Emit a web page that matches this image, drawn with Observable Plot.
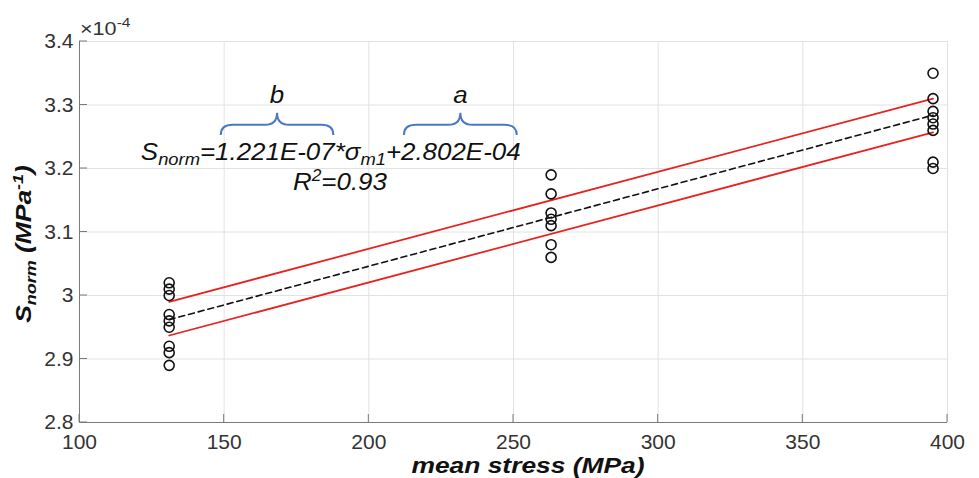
<!DOCTYPE html>
<html><head><meta charset="utf-8">
<script src="https://cdn.jsdelivr.net/npm/d3@7"></script>
<script src="https://cdn.jsdelivr.net/npm/@observablehq/plot@0.6"></script>
<style>
html,body{margin:0;padding:0;background:#fff;}
#chart svg{display:block;}
</style>
</head><body><div id="chart"></div>
<script>
// values in units of 1e-4 MPa^-1 (as shown on the axis)
const stressLevels = [131, 263, 395];
const sAt131 = [3.02, 3.01, 3.00, 2.97, 2.96, 2.95, 2.92, 2.91, 2.89];
const sAt263 = [3.19, 3.16, 3.13, 3.12, 3.11, 3.08, 3.06];
const sAt395 = [3.35, 3.31, 3.29, 3.28, 3.27, 3.26, 3.21, 3.20];

const lineX = [131, 395];
const fitY = [2.962, 3.284];
const upperY = [2.990, 3.310];
const lowerY = [2.937, 3.257];

const xTicks = [100, 150, 200, 250, 300, 350, 400];
const yTicks = [2.8, 2.9, 3, 3.1, 3.2, 3.3, 3.4];

// annotation anchors (data units)
const eqPos = [187.0, 3.2126];
const r2Pos = [190.2, 3.1654];
const braceLabels = ["b", "a"];
const braceX1 = [149.0, 212.3];
const braceX2 = [187.9, 251.3];
const braceYEnd = 3.252, braceYFlat = 3.268, braceYTip = 3.287, braceLabelY = 3.302;

const FONT = "'Liberation Sans', Arial, Helvetica, sans-serif";

const groups = [sAt131, sAt263, sAt395];
const points = stressLevels.flatMap((s, i) => groups[i].map(v => ({s, v})));
const mk = ys => lineX.map((x, i) => ({x, y: ys[i]}));

function annotations(index, scales, values, dims) {
  const {x, y} = scales;
  const {width, height, marginLeft, marginRight, marginTop, marginBottom} = dims;
  const g = d3.create("svg:g").attr("font-family", FONT).attr("text-anchor", "start");
  // inward ticks
  const tk = g.append("g").attr("stroke", "#7a7a7a").attr("stroke-width", 1);
  xTicks.forEach(t => tk.append("line").attr("x1", x(t)).attr("x2", x(t))
    .attr("y1", height - marginBottom).attr("y2", height - marginBottom - 8));
  yTicks.forEach(t => tk.append("line").attr("y1", y(t)).attr("y2", y(t))
    .attr("x1", marginLeft).attr("x2", marginLeft + 8));

  // braces
  braceLabels.forEach((lab, i) => {
    const x1 = x(braceX1[i]), x2 = x(braceX2[i]), xm = (x1 + x2) / 2;
    const ye = y(braceYEnd), yf = y(braceYFlat), yt = y(braceYTip);
    const r = 12;
    const d = `M${x1},${ye} Q${x1},${yf} ${x1 + r},${yf} L${xm - r},${yf} Q${xm},${yf} ${xm},${yt} Q${xm},${yf} ${xm + r},${yf} L${x2 - r},${yf} Q${x2},${yf} ${x2},${ye}`;
    g.append("path").attr("d", d).attr("fill", "none").attr("stroke", "#4a78c8").attr("stroke-width", 2);
    g.append("text").attr("transform", `translate(${xm},${y(braceLabelY)}) scale(1.08,1)`).attr("text-anchor", "middle")
      .attr("font-style", "italic").attr("font-size", 24).attr("fill", "#111").text(lab);
  });

  // equation
  const eq = g.append("text").attr("transform", `translate(${x(eqPos[0])},${y(eqPos[1])}) scale(1.08,1)`)
    .attr("text-anchor", "middle").attr("font-style", "italic").attr("font-size", 24).attr("fill", "#111");
  eq.append("tspan").text("S");
  eq.append("tspan").attr("font-size", 17).attr("dy", 5).text("norm");
  eq.append("tspan").attr("dy", -5).text("=1.221E-07*σ");
  eq.append("tspan").attr("font-size", 17).attr("dy", 5).text("m1");
  eq.append("tspan").attr("dy", -5).text("+2.802E-04");

  const r2 = g.append("text").attr("transform", `translate(${x(r2Pos[0])},${y(r2Pos[1])}) scale(1.08,1)`)
    .attr("text-anchor", "middle").attr("font-style", "italic").attr("font-size", 24).attr("fill", "#111");
  r2.append("tspan").text("R");
  r2.append("tspan").attr("font-size", 16).attr("dy", -9).text("2");
  r2.append("tspan").attr("dy", 9).text("=0.93");

  // exponent label
  const ex = g.append("text").attr("transform", `translate(${marginLeft + 1},${marginTop - 6}) scale(1.2,1)`)
    .attr("text-anchor", "start").attr("font-size", 18).attr("fill", "#333");
  ex.append("tspan").text("×10");
  ex.append("tspan").attr("font-size", 13).attr("dy", -8).text("-4");

  // x title
  g.append("text").attr("transform", `translate(${(marginLeft + width - marginRight) / 2 + 15},${height - 5}) scale(1.2,1)`)
    .attr("text-anchor", "middle").attr("font-weight", "bold").attr("font-style", "italic")
    .attr("font-size", 22).attr("fill", "#111").text("mean stress (MPa)");

  // y title
  const yt = g.append("text").attr("transform", `translate(31,244) rotate(-90) scale(1.2,1)`)
    .attr("text-anchor", "middle").attr("font-weight", "bold").attr("font-style", "italic")
    .attr("font-size", 22).attr("fill", "#111");
  yt.append("tspan").text("S");
  yt.append("tspan").attr("font-size", 15).attr("dy", 5).text("norm");
  yt.append("tspan").attr("dy", -5).text(" (MPa");
  yt.append("tspan").attr("font-size", 15).attr("dy", -8).text("-1");
  yt.append("tspan").attr("dy", 8).text(")");
  return g.node();
}

const plot = Plot.plot({
  width: 979, height: 478,
  marginLeft: 79, marginRight: 32, marginTop: 41, marginBottom: 56,
  style: {fontFamily: FONT, background: "#fff"},
  x: {domain: [100, 400]},
  y: {domain: [2.8, 3.4]},
  marks: [
    Plot.gridX(xTicks, {stroke: "#e2e2e2", strokeOpacity: 1}),
    Plot.gridY(yTicks, {stroke: "#e2e2e2", strokeOpacity: 1}),
    Plot.axisX(xTicks, {tickSize: 0, tickPadding: 12, fontSize: 21, fill: "#333", label: null}),
    Plot.axisY(yTicks, {tickSize: 0, tickPadding: 6, fontSize: 21, fill: "#333", label: null, tickFormat: d => d3.format("~f")(d)}),
    Plot.ruleX([100], {stroke: "#7a7a7a"}),
    Plot.ruleY([2.8], {stroke: "#7a7a7a"}),
    Plot.line(mk(upperY), {x: "x", y: "y", stroke: "#e8231f", strokeWidth: 1.8}),
    Plot.line(mk(lowerY), {x: "x", y: "y", stroke: "#e8231f", strokeWidth: 1.8}),
    Plot.line(mk(fitY), {x: "x", y: "y", stroke: "#111", strokeWidth: 1.6, strokeDasharray: "6,4"}),
    Plot.dot(points, {x: "s", y: "v", r: 5, stroke: "#111", strokeWidth: 1.6, fill: "none"}),
    annotations
  ]
});
document.getElementById("chart").appendChild(plot);
</script>
</body></html>
